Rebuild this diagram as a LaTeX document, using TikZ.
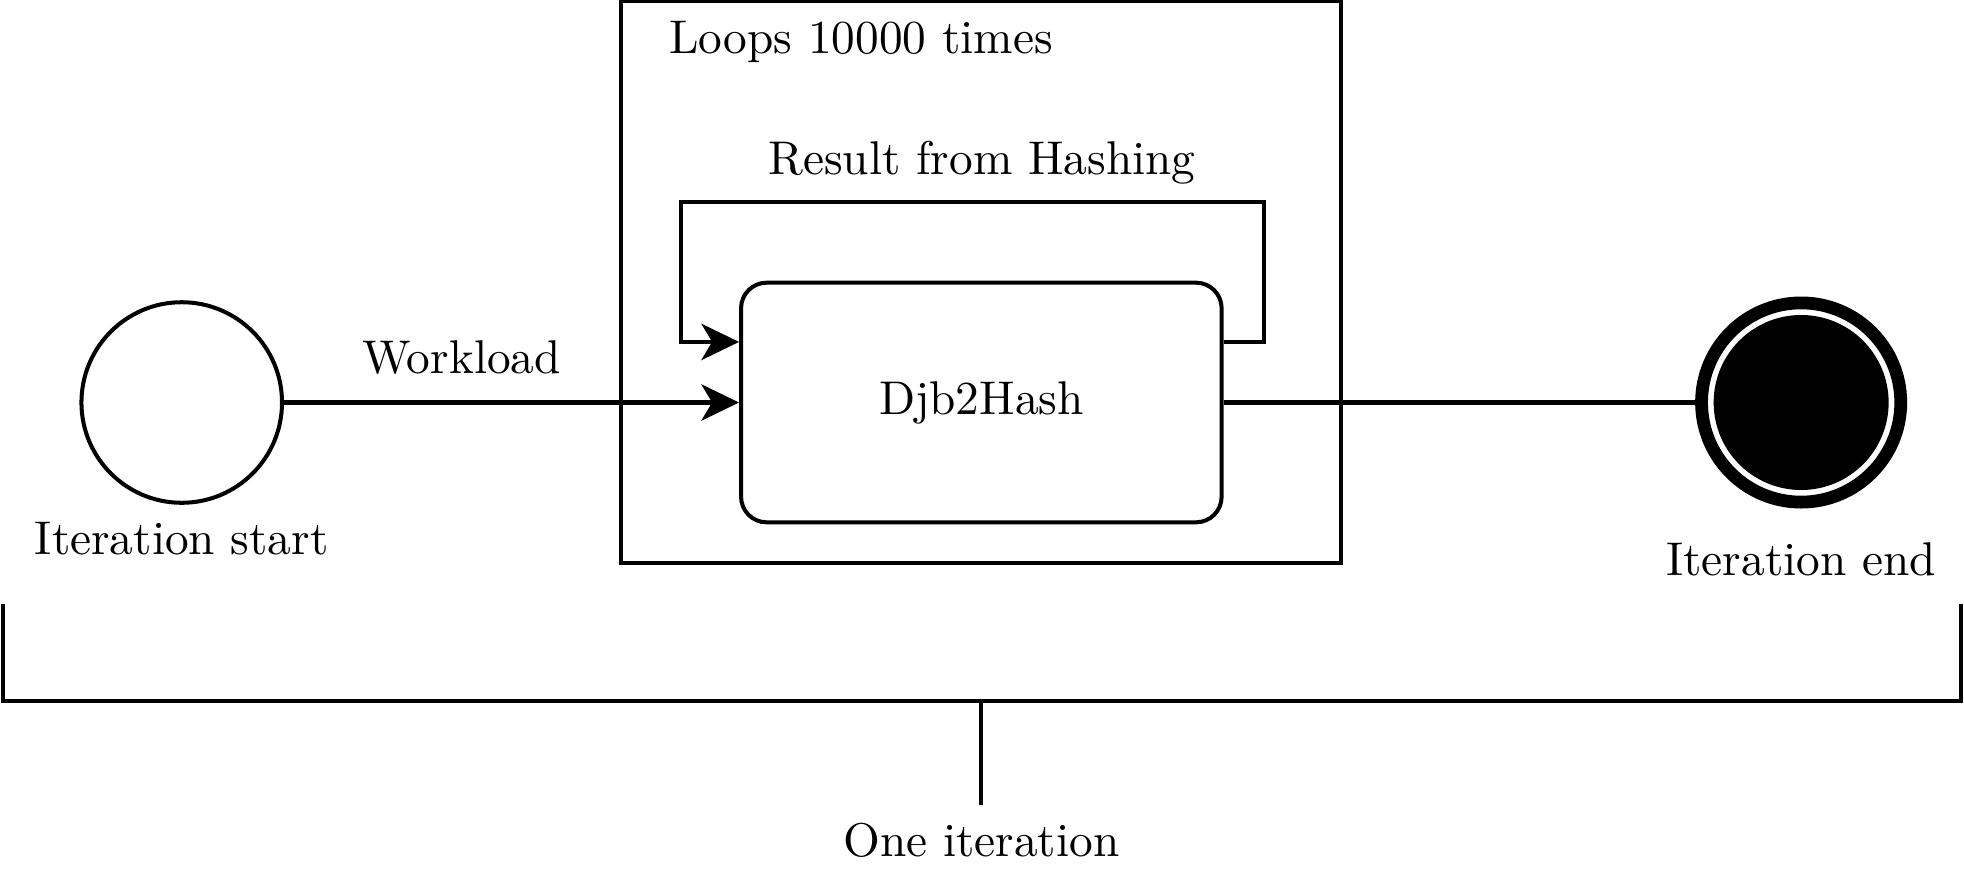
\documentclass[tikz,border=0pt]{standalone}
\usepackage{tikz}
\usetikzlibrary{arrows.meta, positioning, calc}

\begin{document}
\begin{tikzpicture}[
  line width=0.85pt,
  flow/.style={-{Stealth[length=0.28cm, width=0.27cm, inset=0.08cm]}},
  startstate/.style={circle, draw, minimum size=1.49cm, inner sep=0pt},
  endstate/.style={circle, draw, line width=2.7pt, minimum size=1.48cm, inner sep=0pt},
  hashbox/.style={rectangle, draw, rounded corners=0.19cm, minimum width=3.57cm, minimum height=1.78cm},
]
  \useasboundingbox (0,0) rectangle (14.59,6.57);

  % 循环框
  \node[draw, rectangle, minimum width=5.35cm, minimum height=4.17cm, inner sep=0pt] (loop) at (7.285,4.475) {};
  \node[anchor=west] (looplabel) at (4.84,6.26) {Loops 10000 times};

  % 状态
  \node[startstate, label={[label distance=0cm]below:Iteration start}] (start) at (1.35,3.58) {};
  \node[hashbox] (hash) at (7.29,3.58) {Djb2Hash};
  \node[endstate, label={[label distance=0.12cm]below:Iteration end}] (finish) at (13.38,3.58) {};
  \fill (finish.center) circle (0.65cm);

  % 连线
  \draw[flow] (start) -- node[above=0.075cm, pos=0.39] {Workload} (hash);
  \draw[flow] ([yshift=0.45cm]hash.east) -- ++(0.30,0) -- ++(0,1.04)
    -- ++(-4.33,0) node[above, pos=0.484] {Result from Hashing}
    -- ++(0,-1.04) -- ([yshift=0.45cm]hash.west);
  \draw (hash) -- (finish);

  % 一次迭代
  \coordinate (bracemid) at (7.29,1.36);
  \draw (0.02,2.08) |- (bracemid) -| (14.57,2.08);
  \node (oneiter) at (7.29,0.33) {One iteration};
  \draw (bracemid) -- (oneiter);
\end{tikzpicture}
\end{document}
